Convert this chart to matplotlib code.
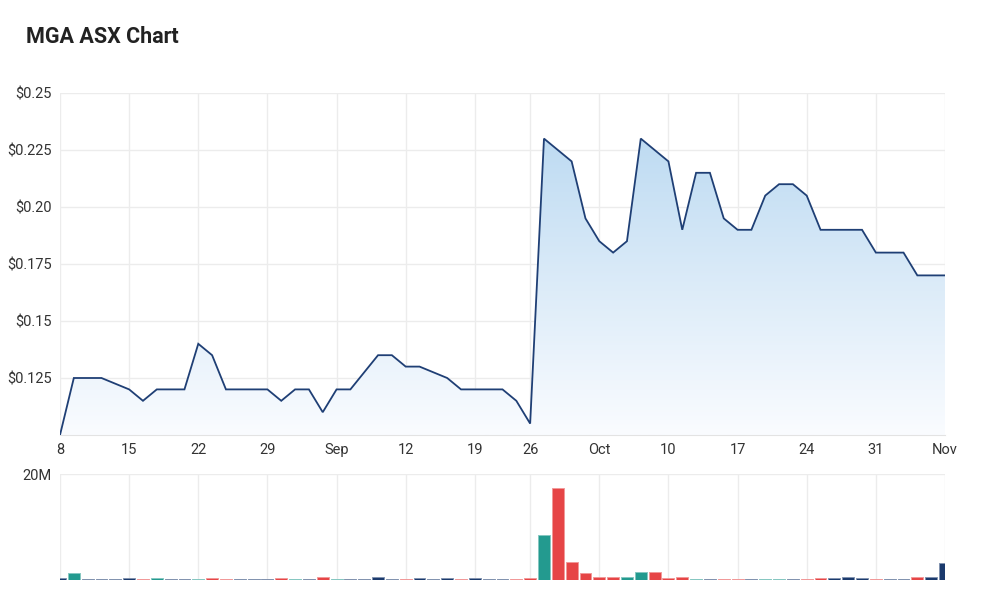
import matplotlib
matplotlib.use("Agg")
import matplotlib.pyplot as plt
import numpy as np
from matplotlib.colors import to_rgb

plt.rcParams['font.family'] = ['Roboto', 'DejaVu Sans']

# ---- data (trading-day index on x) ----
tick_pos = [0, 5, 10, 15, 20, 25, 30, 34, 39, 44, 49, 54, 59, 64]
tick_labels = ['8', '15', '22', '29', 'Sep', '12', '19', '26', 'Oct', '10', '17', '24', '31', 'Nov']

prices = [0.10, 0.125, 0.125, 0.125, 0.1225, 0.12, 0.115, 0.12, 0.12, 0.12,
          0.14, 0.135, 0.12, 0.12, 0.12, 0.12, 0.115, 0.12, 0.12, 0.11,
          0.12, 0.12, 0.1275, 0.135, 0.135, 0.13, 0.13, 0.1275, 0.125, 0.12,
          0.12, 0.12, 0.12, 0.115, 0.105, 0.23, 0.225, 0.22, 0.195, 0.185,
          0.18, 0.185, 0.23, 0.225, 0.22, 0.19, 0.215, 0.215, 0.195, 0.19,
          0.19, 0.205, 0.21, 0.21, 0.205, 0.19, 0.19, 0.19, 0.19, 0.18,
          0.18, 0.18, 0.17, 0.17, 0.17]

volumes_m = [0.3, 1.25, 0.15, 0.15, 0.15, 0.3, 0.15, 0.3, 0.15, 0.15,
             0.15, 0.3, 0.15, 0.15, 0.15, 0.15, 0.3, 0.15, 0.15, 0.55,
             0.15, 0.15, 0.15, 0.5, 0.15, 0.15, 0.3, 0.15, 0.3, 0.15,
             0.3, 0.15, 0.15, 0.15, 0.35, 8.4, 17.3, 3.4, 1.25, 0.62,
             0.62, 0.62, 1.6, 1.6, 0.3, 0.5, 0.25, 0.25, 0.25, 0.15,
             0.25, 0.15, 0.15, 0.15, 0.15, 0.3, 0.3, 0.5, 0.3, 0.15,
             0.15, 0.15, 0.5, 0.5, 3.2]

vol_dirs = ['n', 't', 'n', 'n', 'n', 'n', 'r', 't', 'n', 'n',
            't', 'r', 'r', 'n', 'n', 'n', 'r', 't', 'n', 'r',
            't', 'n', 'n', 'n', 'n', 'r', 'n', 'n', 'n', 'r',
            'n', 'n', 'n', 'r', 'r', 't', 'r', 'r', 'r', 'r',
            'r', 't', 't', 'r', 'r', 'r', 't', 'n', 'r', 'r',
            'n', 't', 't', 'n', 'r', 'r', 'n', 'n', 'n', 'r',
            'n', 'n', 'r', 'n', 'n']

y_ticks = [0.125, 0.15, 0.175, 0.20, 0.225, 0.25]
y_tick_labels = ['$0.125', '$0.15', '$0.175', '$0.20', '$0.225', '$0.25']

# ---- styles ----
line_color = '#1f3f75'
grid_color = '#ececec'
text_color = '#333333'
dir_colors = {'n': '#1b3a6d', 't': '#239a8f', 'r': '#e64546'}

fig = plt.figure(figsize=(10, 6.13), dpi=100)
ax = fig.add_axes([0.06, 1 - 435 / 613, 0.885, (435 - 93) / 613])
axv = fig.add_axes([0.06, 1 - 580 / 613, 0.885, (580 - 474) / 613], sharex=ax)

x = np.arange(len(prices))
ax.set_xlim(0, len(prices) - 1)
ax.set_ylim(0.10, 0.25)

# gradient fill under the line
top = np.array([181, 214, 240]) / 255
bot = np.array([250, 252, 255]) / 255
t = np.linspace(0, 1, 256)[:, None]
img = (top * (1 - t) + bot * t).reshape(256, 1, 3)
poly = ax.fill_between(x, prices, 0.10, color='none', lw=0)
im = ax.imshow(img, extent=(0, len(prices) - 1, 0.10, 0.25), aspect='auto',
               origin='upper', zorder=1, interpolation='bilinear')
im.set_clip_path(poly.get_paths()[0], transform=ax.transData)
ax.plot(x, prices, color=line_color, lw=1.3, zorder=3, solid_joinstyle='miter')

ax.set_yticks(y_ticks)
ax.set_yticklabels(y_tick_labels)
ax.set_xticks(tick_pos)
ax.set_xticklabels(tick_labels)
ax.grid(True, color=grid_color, lw=1, zorder=0)
ax.set_axisbelow(True)
for s in ax.spines.values():
    s.set_visible(False)
ax.spines['bottom'].set_visible(True)
ax.spines['bottom'].set_color('#e3e3e3')
ax.tick_params(length=0, labelsize=10.5, colors=text_color, pad=6)

# volume panel
cols = [dir_colors[d] for d in vol_dirs]
edge = [tuple(0.55 * np.array(to_rgb(c)) + 0.45) for c in cols]
axv.bar(x, volumes_m, width=0.86, color=cols, edgecolor=edge, lw=0.7, zorder=2)
axv.set_ylim(0, 20)
axv.set_yticks([20])
axv.set_yticklabels(['20M'])
axv.grid(True, color=grid_color, lw=1, zorder=0)
axv.set_axisbelow(True)
for s in axv.spines.values():
    s.set_visible(False)
axv.tick_params(length=0, labelsize=10.5, colors=text_color, labelbottom=False, pad=6)

fig.text(0.026, 1 - 37 / 613, 'MGA ASX Chart', fontsize=15.5, fontweight='bold',
         va='center', ha='left', color='#222222')

fig.savefig('out.png', dpi=100, facecolor='white')
